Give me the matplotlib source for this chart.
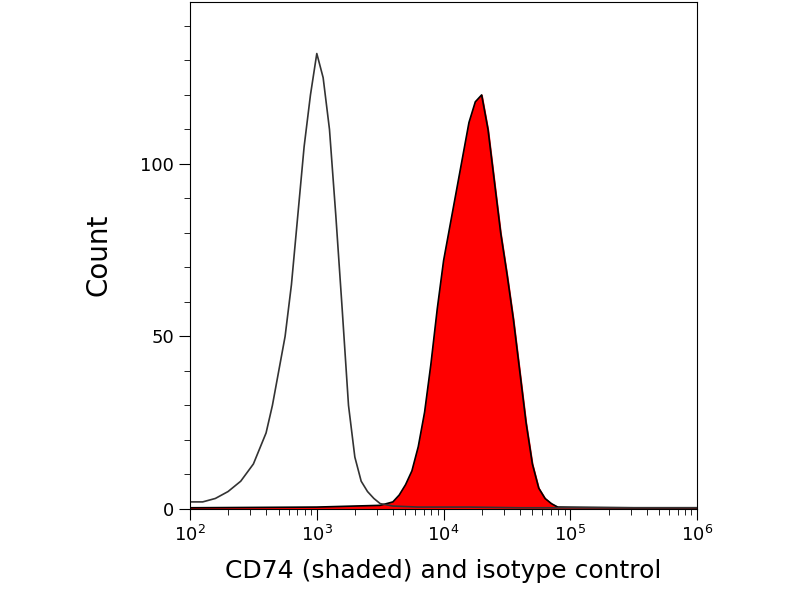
import numpy as np
import matplotlib.pyplot as plt

#Histogram values (log10 of intensity, count)
iso_log = [2.0, 2.1, 2.2, 2.3, 2.4, 2.5, 2.6, 2.65, 2.7, 2.75, 2.8, 2.85, 2.9, 2.95, 3.0,
           3.05, 3.1, 3.15, 3.2, 3.25, 3.3, 3.35, 3.4, 3.45, 3.5, 3.6, 3.8, 4.2, 4.6, 5.0, 5.5, 6.0]
iso_cnt = [2, 2, 3, 5, 8, 13, 22, 30, 40, 50, 65, 85, 105, 120, 132,
           125, 110, 85, 58, 30, 15, 8, 5, 3, 1.5, 0.8, 0.5, 0.5, 0.3, 0.3, 0.3, 0.3]

cd74_log = [2.0, 3.0, 3.5, 3.6, 3.65, 3.7, 3.75, 3.8, 3.85, 3.9, 3.95, 4.0, 4.05, 4.1, 4.15,
            4.2, 4.25, 4.3, 4.35, 4.4, 4.45, 4.5, 4.55, 4.6, 4.65, 4.7, 4.75, 4.8, 4.85, 4.9, 5.5, 6.0]
cd74_cnt = [0.3, 0.5, 1, 2, 4, 7, 11, 18, 28, 42, 58, 72, 82, 92, 102,
            112, 118, 120, 110, 95, 80, 68, 55, 40, 25, 13, 6, 3, 1.5, 0.5, 0.3, 0.3]

x_iso = 10 ** np.array(iso_log)
x_cd74 = 10 ** np.array(cd74_log)

plt.figure(figsize=(8, 6), dpi=100)
ax = plt.axes([0.2375, 0.152, 0.634, 0.845])
plt.fill_between(x_cd74, cd74_cnt, color='red')  # shaded CD74
plt.plot(x_cd74, cd74_cnt, color='black', lw=1.2)
plt.plot(x_iso, iso_cnt, color='#333333', lw=1.2)  # isotype control
plt.xscale('log')
plt.xlim(1e2, 1e6)
plt.ylim(0, 147)
plt.yticks([0, 50, 100], fontsize=13)
plt.xticks(fontsize=13)
ax.set_yticks(np.arange(0, 147, 10), minor=True)
ax.tick_params(direction='out', length=8)
ax.tick_params(which='minor', direction='out', length=4)
plt.ylabel("Count", fontsize=20, labelpad=20)
plt.xlabel("CD74 (shaded) and isotype control", fontsize=18, labelpad=10)
plt.savefig("out.png")
